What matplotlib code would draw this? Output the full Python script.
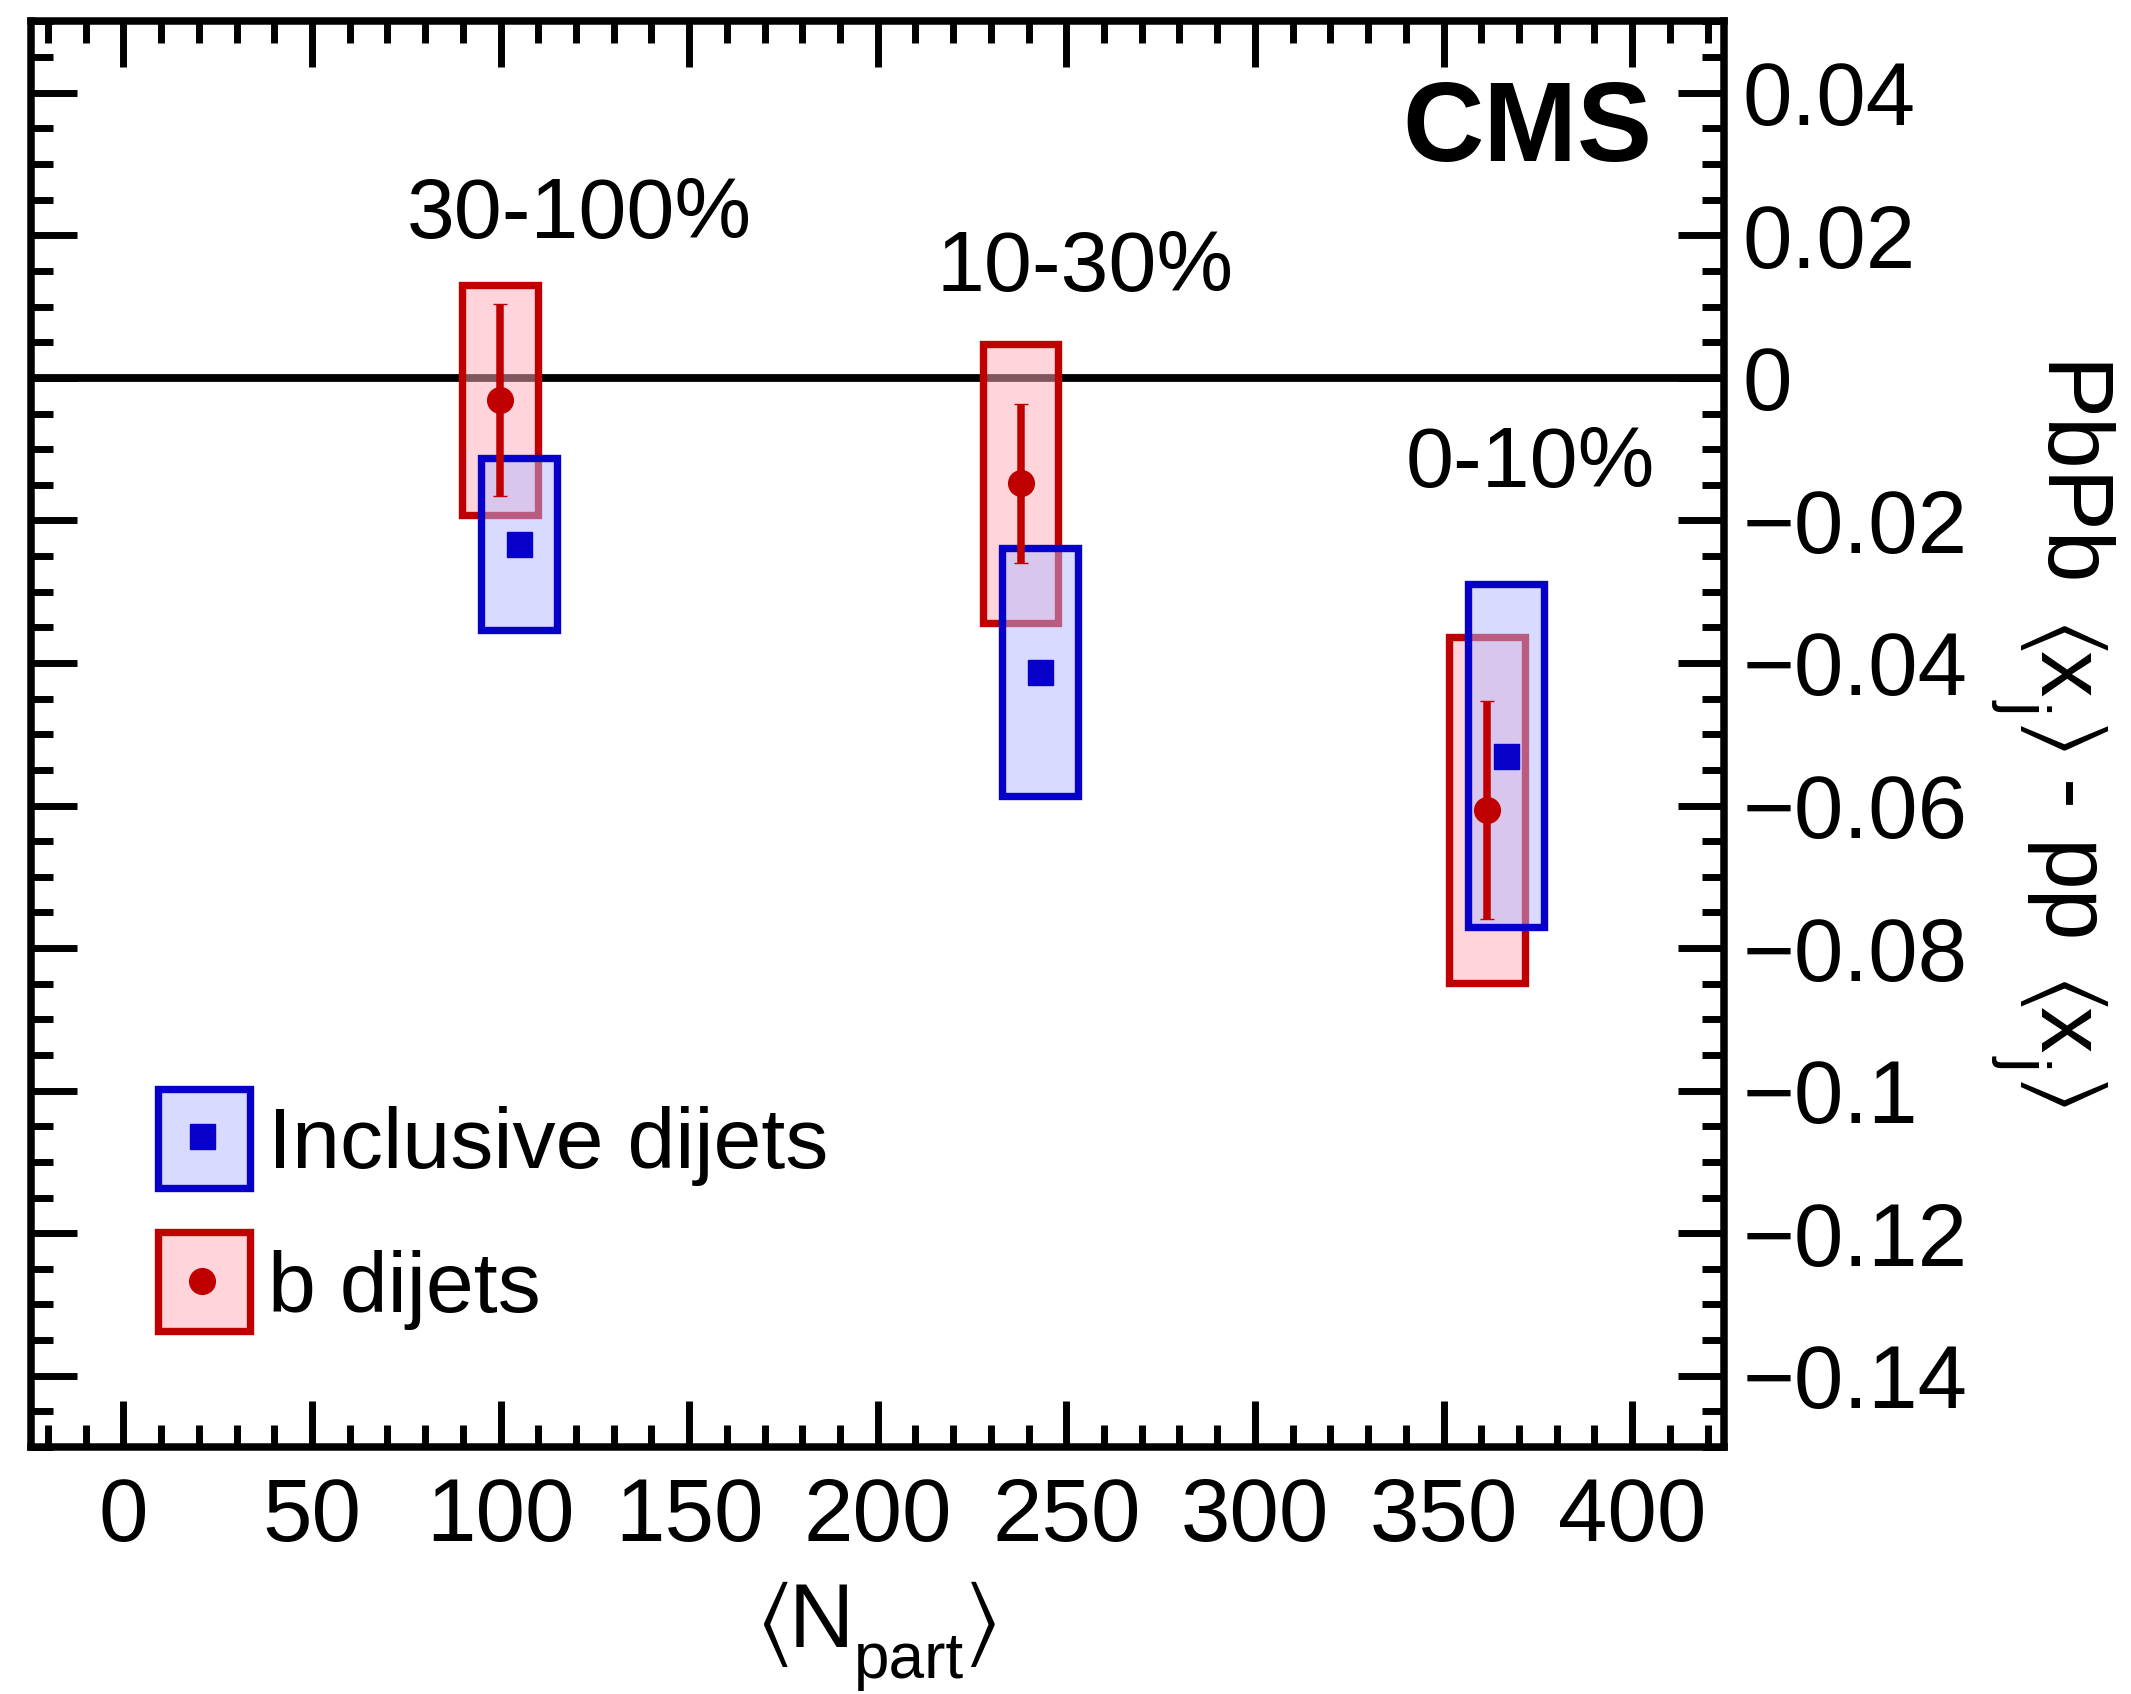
import matplotlib
matplotlib.use("Agg")
import matplotlib.pyplot as plt
from matplotlib.patches import Rectangle
from matplotlib.lines import Line2D
from matplotlib.ticker import MultipleLocator, FuncFormatter

plt.rcParams['font.family'] = ['Liberation Sans', 'DejaVu Sans']
plt.rcParams['mathtext.fontset'] = 'custom'
plt.rcParams['mathtext.rm'] = 'Liberation Sans'
plt.rcParams['mathtext.it'] = 'Liberation Sans:italic'
plt.rcParams['mathtext.bf'] = 'Liberation Sans:bold'
plt.rcParams['mathtext.fallback'] = 'stixsans'

# ---- data -------------------------------------------------------------
centrality = ["30-100%", "10-30%", "0-10%"]
centrality_x = [121.0, 255.0, 373.0]
centrality_y = [0.0196, 0.0122, -0.0153]

npart_incl = [104.9, 243.0, 366.6]
incl_val = [-0.0233, -0.0412, -0.0530]
incl_syst = [0.0121, 0.0174, 0.0241]

npart_b = [99.9, 237.9, 361.5]
b_val = [-0.0031, -0.0148, -0.0606]
b_stat = [0.0135, 0.0112, 0.0153]
b_syst = [0.0161, 0.0196, 0.0243]

xticks = [0, 50, 100, 150, 200, 250, 300, 350, 400]
yticks = [0.04, 0.02, 0.0, -0.02, -0.04, -0.06, -0.08, -0.10, -0.12, -0.14]

# ---- style ------------------------------------------------------------
BLUE = "#0600C8"
RED = "#C00000"
BLUE_FILL = (179 / 255, 185 / 255, 1.0, 0.5)
RED_FILL = (1.0, 173 / 255, 185 / 255, 0.5)
BOX_HALF = 10.0
BOX_LW = 5.3

W, H = 2131, 1694
fig = plt.figure(figsize=(W / 100, H / 100), dpi=100)
ax = fig.add_axes([0.01455, 0.14581, 0.80924 - 0.01455, 0.98731 - 0.14581])
ax.set_xlim(-24.5, 424.5)
ax.set_ylim(-0.15, 0.05)

ax.axhline(0.0, color="black", lw=5.6, zorder=1)


def syst_box(x, y, s, face, edge, z):
    ax.add_patch(Rectangle((x - BOX_HALF, y - s), 2 * BOX_HALF, 2 * s,
                           facecolor=face, edgecolor=edge, lw=BOX_LW,
                           joinstyle="miter", zorder=z))


for x, y, s in zip(npart_b, b_val, b_syst):
    syst_box(x, y, s, RED_FILL, RED, 2)
for x, y, s in zip(npart_incl, incl_val, incl_syst):
    syst_box(x, y, s, BLUE_FILL, BLUE, 3)

ax.errorbar(npart_b, b_val, yerr=b_stat, fmt="o", color=RED, ms=18.5, mew=1,
            elinewidth=5.4, capsize=4.7, capthick=5.5, zorder=5)
ax.plot(npart_incl, incl_val, "s", color=BLUE, ms=18, mew=1, zorder=5)

for lab, x, y in zip(centrality, centrality_x, centrality_y):
    ax.text(x, y, lab, ha="center", va="baseline", fontsize=62)

ax.text(0.9575, 0.902, "CMS", transform=ax.transAxes, ha="right",
        va="baseline", fontsize=81, fontweight="bold")

# ---- legend -----------------------------------------------------------
legend_rows = [
    ("Inclusive dijets", BLUE_FILL, BLUE, "s", 18, 0.1815, 0.2179, 0.1955),
    ("b dijets", RED_FILL, RED, "o", 18.5, 0.0813, 0.1163, 0.0946),
]
for text, face, edge, mk, ms, y0, ym, yb in legend_rows:
    ax.add_patch(Rectangle((0.0747, y0), 0.1291 - 0.0747, 0.0694,
                           transform=ax.transAxes, facecolor=face,
                           edgecolor=edge, lw=BOX_LW, joinstyle="miter",
                           zorder=6))
    ax.add_line(Line2D([0.1009], [ym], transform=ax.transAxes, marker=mk,
                       color=edge, ms=ms, mew=1, ls="none", zorder=7))
    ax.text(0.140, yb, text, transform=ax.transAxes, ha="left",
            va="baseline", fontsize=62)

# ---- axes -------------------------------------------------------------
for sp in ax.spines.values():
    sp.set_linewidth(5.4)

ax.xaxis.set_major_locator(MultipleLocator(50))
ax.xaxis.set_minor_locator(MultipleLocator(10))
ax.yaxis.set_major_locator(MultipleLocator(0.02))
ax.yaxis.set_minor_locator(MultipleLocator(0.005))
ax.set_xticks(xticks)
ax.set_yticks(yticks)


def yfmt(v, pos):
    if abs(v) < 1e-9:
        return "0"
    return f"{v:g}".replace("-", "\u2212")


ax.yaxis.set_major_formatter(FuncFormatter(yfmt))
ax.xaxis.set_major_formatter(FuncFormatter(lambda v, p: f"{v:g}"))

ax.tick_params(which="both", direction="in", top=True, bottom=True,
               left=True, right=True, labelleft=False, labelright=True,
               width=5.0)
ax.tick_params(which="major", length=33)
ax.tick_params(which="minor", length=16)
ax.tick_params(axis="x", which="major", pad=21, labelsize=64)
ax.tick_params(axis="y", which="major", pad=13, labelsize=64)


# ---- axis titles, set piece by piece so subscripts sit low -------------
def fx(px):
    return px / W


def fy(py):
    return 1 - py / H


renderer = fig.canvas.get_renderer()


def text_len(s, size):
    t = fig.text(0, 0, s, fontsize=size)
    length = t.get_window_extent(renderer).width
    t.remove()
    return length


def compose(pieces, anchor, center, rotated):
    """pieces: (string, fontsize, baseline drop in px, gap after in px)."""
    lens = [text_len(s, fs) for s, fs, _, _ in pieces]
    total = sum(lens) + sum(p[3] for p in pieces[:-1])
    pos = center - total / 2
    for (s, fs, drop, gap), length in zip(pieces, lens):
        if rotated:
            fig.text(fx(anchor - drop), fy(pos), s, fontsize=fs,
                     rotation=-90, rotation_mode="anchor", ha="left",
                     va="baseline")
        else:
            fig.text(fx(pos), fy(anchor + drop), s, fontsize=fs,
                     ha="left", va="baseline")
        pos += length + gap


compose([(r"$\langle$", 66, 0, 0),
         ("N", 65, 0, 0),
         ("part", 46, 31, 0),
         (r"$\rangle$", 66, 0, 0)],
        anchor=1647, center=876, rotated=False)

compose([("PbPb", 67, 0, 28),
         (r"$\langle$", 68, 0, 0),
         ("x", 67, 0, 2),
         ("j", 47, 34, 4),
         (r"$\rangle$", 68, 0, 30),
         ("-", 67, 0, 30),
         ("pp", 67, 0, 28),
         (r"$\langle$", 68, 0, 0),
         ("x", 67, 0, 2),
         ("j", 47, 34, 4),
         (r"$\rangle$", 68, 0, 0)],
        anchor=2040, center=734, rotated=True)

fig.savefig("out.png", dpi=100)
